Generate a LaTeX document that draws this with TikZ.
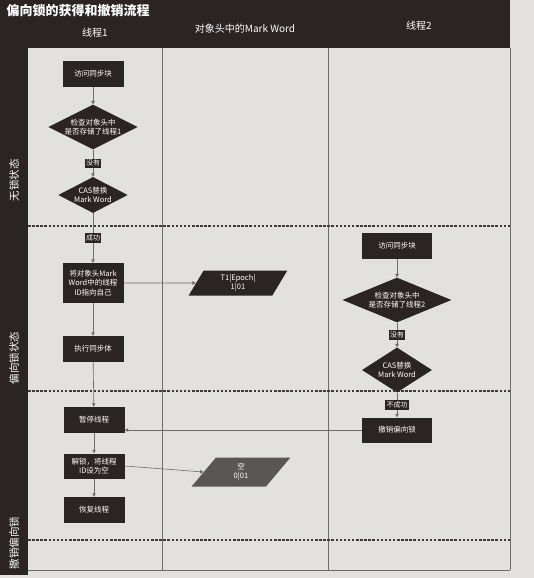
\documentclass[tikz,border=0pt]{standalone}
\usepackage{fontspec}
\setmainfont{Noto Sans CJK SC}
\usetikzlibrary{shapes.geometric,arrows.meta}
\definecolor{dk}{HTML}{2A2422}
\definecolor{paper}{HTML}{E2E1DD}
\definecolor{pgray}{HTML}{5A5653}
\definecolor{gline}{HTML}{6E6B68}
\begin{document}
\begin{tikzpicture}[x=1pt,y=-1pt,
  box/.style={fill=dk,text=white,minimum width=61pt,minimum height=26pt,inner sep=1pt,align=center,font=\fontsize{7.5}{9.5}\selectfont},
  dia/.style={diamond,fill=dk,text=white,inner sep=0pt,aspect=2,align=center,font=\fontsize{7.5}{9.5}\selectfont},
  para/.style={trapezium,trapezium left angle=68,trapezium right angle=112,trapezium stretches=true,fill=dk,text=white,minimum width=99pt,minimum height=25pt,inner sep=1pt,align=center,font=\fontsize{7.5}{9.5}\selectfont},
  lab/.style={fill=dk,text=white,inner sep=1.4pt,font=\fontsize{7}{8}\selectfont},
  arr/.style={draw=gline,line width=0.6pt,-{Triangle[length=3.5pt,width=3.5pt]}},
  grid/.style={draw=gline,line width=0.6pt},
  sep/.style={draw=dk!90,line width=1.6pt,dash pattern=on 2.5pt off 1.6pt},
  hdr/.style={text=white,font=\fontsize{10}{12}\selectfont},
  side/.style={text=white,rotate=90,font=\fontsize{10.5}{12}\selectfont}]
\fill[paper] (0,0) rectangle (534,578);
\useasboundingbox (0,0) rectangle (534,578);
% frame and bands
\fill[dk] (0,0) rectangle (510,48);
\fill[dk] (0,0) rectangle (28,575);
\draw[grid] (162,48) -- (162,570);
\draw[grid] (328,48) -- (328,570);
\draw[grid] (510,48) -- (510,570);
\draw[grid] (28,570) -- (510,570);
% separators
\draw[sep] (28,226) -- (510,226);
\draw[sep] (28,391) -- (510,391);
\draw[sep] (28,540) -- (510,540);
% headings
\node[text=white,anchor=west,font=\bfseries\fontsize{13}{15}\selectfont] (title) at (3,11) {偏向锁的获得和撤销流程};
\node[hdr] (h1) at (95,33) {线程1};
\node[hdr] (h2) at (245,29) {对象头中的Mark Word};
\node[hdr] (h3) at (419,26) {线程2};
\node[side] (s1) at (14,180) {无锁状态};
\node[side] (s2) at (14,358) {偏向锁状态};
\node[side] (s3) at (14,543) {撤销偏向锁};
% thread 1
\node[box] (a1) at (93,74) {访问同步块};
\node[dia,minimum width=89pt,minimum height=44pt] (a2) at (93,127) {检查对象头中\\是否存储了线程1};
\node[dia,minimum width=61pt,minimum height=36pt] (a3) at (93,195) {CAS替换\\Mark Word};
\node[box,minimum height=40pt] (a4) at (93,283) {将对象头Mark\\Word中的线程\\ID指向自己};
\node[box] (a5) at (93,349) {执行同步体};
\node[box] (a6) at (94,420) {暂停线程};
\node[box,minimum height=25pt] (a7) at (94,466) {解锁，将线程\\ID设为空};
\node[box] (a8) at (94,510) {恢复线程};
% mark word column
\node[para] (m1) at (238,283) {T1|Epoch|\\1|01};
\node[para,fill=pgray,minimum height=29pt] (m2) at (241,472) {空\\0|01};
% thread 2
\node[box,minimum width=70pt] (b1) at (397,246) {访问同步块};
\node[dia,minimum width=109pt,minimum height=37pt] (b2) at (397,300) {检查对象头中\\是否存储了线程2};
\node[dia,minimum width=70pt,minimum height=45pt] (b3) at (397,370) {CAS替换\\Mark Word};
\node[box,minimum width=70pt,minimum height=25pt] (b4) at (397,430) {撤销偏向锁};
% connectors
\draw[arr] (a1) -- (a2);
\draw[arr] (a2) -- node[lab]{没有} (a3);
\draw[arr] (a3) -- node[lab]{成功} (a4);
\draw[arr] (a4) -- (a5);
\draw[arr] (a5) -- (a6);
\draw[arr] (a6) -- (a7);
\draw[arr] (a7) -- (a8);
\draw[arr] (a4.east) -- (m1.west);
\draw[arr] (a7.east) -- (m2.west);
\draw[arr] (b1) -- (b2);
\draw[arr] (b2) -- node[lab]{没有} (b3);
\draw[arr] (b3) -- node[lab]{不成功} (b4);
\draw[arr] (b4.west) -- (b4.west -| a6.east);
\end{tikzpicture}
\end{document}
